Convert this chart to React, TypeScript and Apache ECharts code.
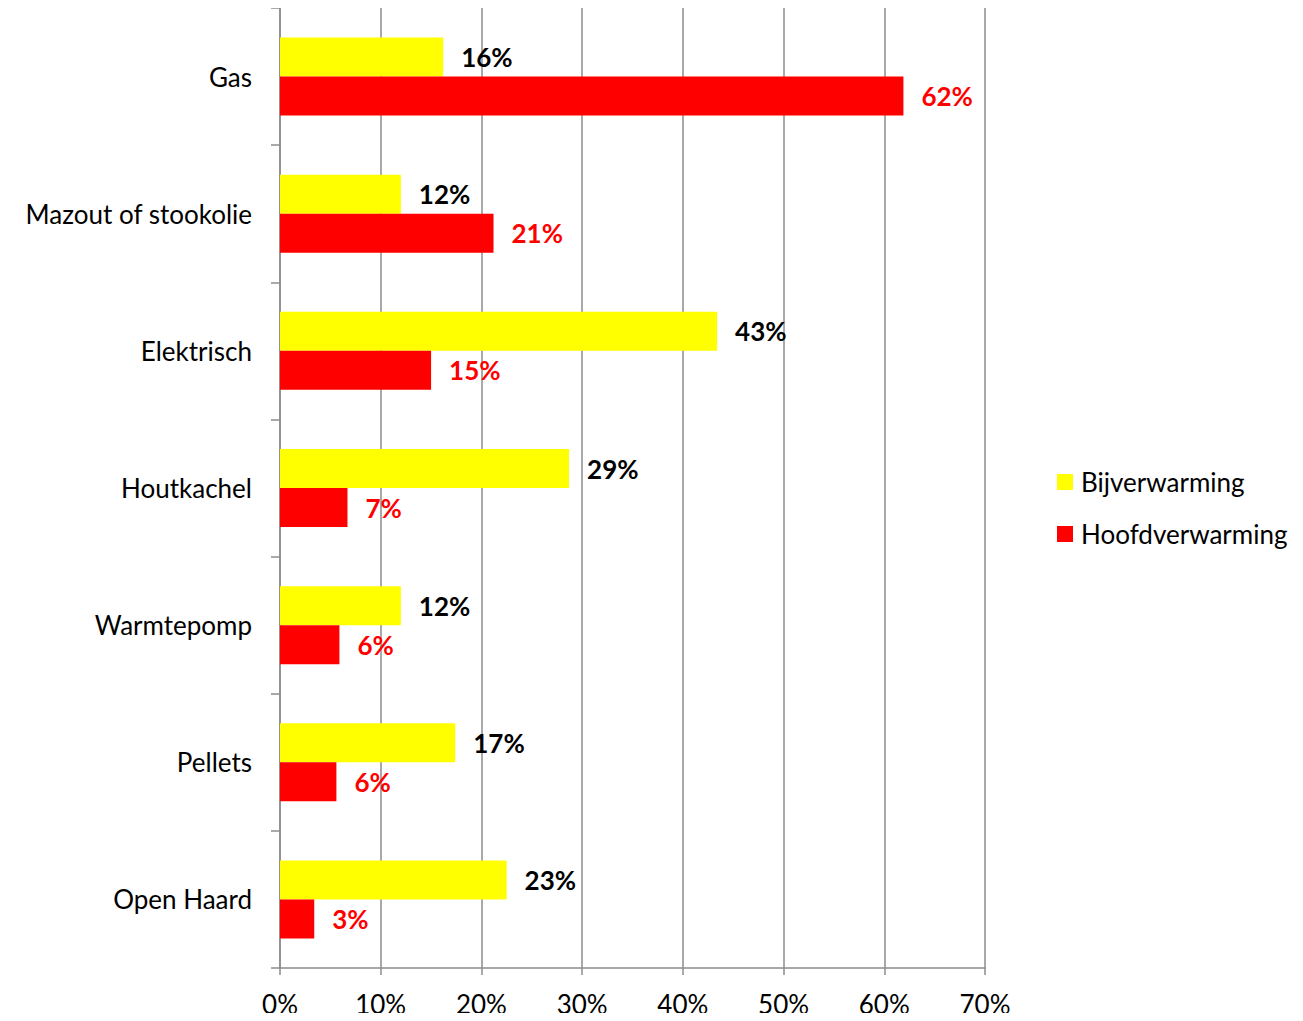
import React, { useEffect, useRef } from "react";
import * as echarts from "echarts";

const categories = ["Gas", "Mazout of stookolie", "Elektrisch", "Houtkachel", "Warmtepomp", "Pellets", "Open Haard"];
const bijverwarming = [16.2, 12.0, 43.4, 28.7, 12.0, 17.4, 22.5];
const hoofdverwarming = [61.9, 21.2, 15.0, 6.7, 5.9, 5.6, 3.4];
const seriesNames = ["Bijverwarming", "Hoofdverwarming"];

const FONT = "Lato, 'Noto Sans', sans-serif";

export default function App() {
  const ref = useRef<HTMLDivElement>(null);
  useEffect(() => {
    const chart = echarts.init(ref.current!, null, { renderer: "svg" });
    const label = (color: string) => ({
      show: true,
      position: "right",
      distance: 18,
      color,
      fontWeight: "bold",
      fontSize: 26,
      fontFamily: FONT,
      formatter: (p: any) => Math.round(p.value) + "%",
    });
    chart.setOption({
      animation: false,
      backgroundColor: "#ffffff",
      textStyle: { fontFamily: FONT },
      grid: { left: 280, right: 318, top: 8, bottom: 53, containLabel: false },
      legend: {
        orient: "vertical",
        left: 1052,
        top: 464,
        itemWidth: 16,
        itemHeight: 16,
        itemGap: 26,
        icon: "rect",
        textStyle: { fontSize: 26, color: "#000", fontFamily: FONT, padding: [0, 0, 0, 3] },
        data: seriesNames,
      },
      xAxis: {
        type: "value",
        min: 0,
        max: 70,
        interval: 10,
        axisLine: { show: true, lineStyle: { color: "#8c8c8c", width: 1.5 } },
        axisTick: { show: true, length: 7, lineStyle: { color: "#8c8c8c", width: 1.5 } },
        splitLine: { show: true, lineStyle: { color: "#8c8c8c", width: 1.5 } },
        axisLabel: { formatter: "{value}%", fontSize: 26, color: "#000", margin: 23, fontFamily: FONT },
      },
      yAxis: {
        type: "category",
        inverse: true,
        data: categories,
        axisLine: { show: true, lineStyle: { color: "#8c8c8c", width: 1.5 } },
        axisTick: { show: true, length: 9, lineStyle: { color: "#8c8c8c", width: 1.5 } },
        axisLabel: { fontSize: 26, color: "#000", margin: 28, fontFamily: FONT },
      },
      series: [
        {
          name: seriesNames[0],
          type: "bar",
          data: bijverwarming,
          barWidth: 39,
          barGap: "0%",
          itemStyle: { color: "#ffff00" },
          label: label("#000000"),
        },
        {
          name: seriesNames[1],
          type: "bar",
          data: hoofdverwarming,
          barWidth: 39,
          barGap: "0%",
          itemStyle: { color: "#ff0000" },
          label: label("#ff0000"),
        },
      ],
    });
    return () => chart.dispose();
  }, []);
  return <div ref={ref} style={{ width: 1303, height: 1021, margin: -8 }} />;
}
